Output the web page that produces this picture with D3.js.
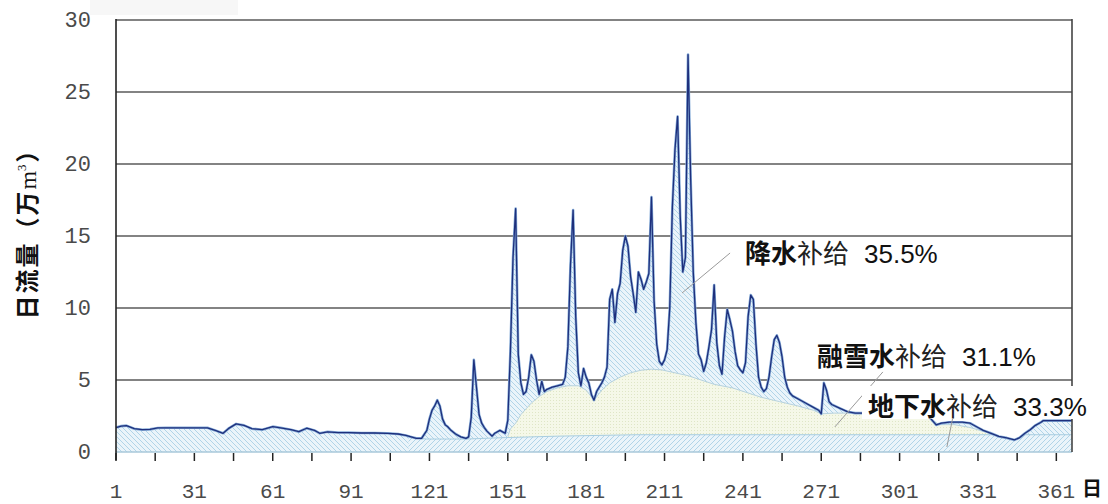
<!DOCTYPE html>
<html>
<head>
<meta charset="utf-8">
<script src="https://cdn.jsdelivr.net/npm/d3@7/dist/d3.min.js"></script>
<style>
  html, body { margin: 0; padding: 0; background: #ffffff; }
  svg { display: block; }
</style>
</head>
<body>
<svg id="chart" width="1108" height="504"></svg>
<script>
// Daily discharge (万m³) through the year, [day, value]
const totalFlow = [
  [1,1.70],[3,1.80],[5,1.83],[8,1.62],[11,1.55],[14,1.57],[17,1.67],[20,1.68],[25,1.68],[30,1.68],
  [36,1.68],[39,1.50],[42,1.30],[44,1.62],[47,1.95],[50,1.85],[53,1.62],[57,1.55],[61,1.76],[64,1.68],
  [68,1.55],[71,1.41],[74,1.65],[77,1.50],[79,1.30],[82,1.40],[86,1.35],[90,1.35],[95,1.32],[100,1.32],
  [105,1.30],[109,1.25],[112,1.15],[114,1.05],[116,0.95],[118,0.95],[120,1.50],[121,2.30],[122,2.90],
  [123,3.20],[124,3.60],[125,3.20],[126,2.30],[127,1.90],[128,1.75],[129,1.55],[131,1.25],[133,1.05],
  [135,0.95],[136,1.05],[137,2.40],[138,6.40],[139,4.50],[140,2.60],[141,2.00],[142,1.70],[143,1.45],
  [145,1.10],[146,1.30],[148,1.50],[149,1.40],[150,1.30],[151,2.20],[152,7.00],[153,13.5],[154,16.9],
  [155,6.80],[156,4.80],[157,4.00],[158,4.20],[159,5.20],[160,6.75],[161,6.30],[162,5.00],[163,4.00],
  [164,4.90],[165,4.20],[166,4.35],[168,4.50],[170,4.60],[172,4.70],[173,5.20],[174,7.30],[175,13.0],
  [176,16.8],[177,9.40],[178,5.50],[179,4.60],[180,5.80],[181,5.20],[182,4.80],[183,4.00],[184,3.60],
  [185,4.20],[186,4.50],[187,4.80],[188,5.20],[189,5.90],[190,10.6],[191,11.3],[192,9.00],[193,11.0],
  [194,11.7],[195,14.0],[196,15.0],[197,14.3],[198,12.2],[199,11.0],[200,9.70],[201,12.5],[202,12.0],
  [203,11.3],[204,11.8],[205,12.4],[206,17.7],[207,10.5],[208,7.50],[209,6.30],[210,6.05],[211,6.40],
  [212,7.10],[213,10.0],[214,17.0],[215,21.0],[216,23.3],[217,16.4],[218,12.5],[219,13.5],[220,27.6],
  [221,19.0],[222,12.5],[223,9.00],[224,6.80],[225,6.40],[226,5.60],[227,6.20],[228,7.30],[229,8.50],
  [230,11.6],[231,7.60],[232,6.00],[233,5.40],[234,8.00],[235,9.90],[236,9.20],[237,8.40],[238,7.00],
  [239,6.00],[240,5.70],[241,5.50],[242,6.20],[243,9.40],[244,10.9],[245,10.6],[246,7.50],[247,5.20],
  [248,4.50],[249,4.20],[250,4.40],[251,5.20],[252,6.60],[253,7.80],[254,8.10],[255,7.60],[256,6.60],
  [257,5.20],[258,4.50],[259,4.10],[260,3.90],[262,3.70],[265,3.40],[268,3.10],[270,2.90],[271,2.65],
  [272,4.80],[273,4.30],[274,3.50],[275,3.30],[278,3.05],[281,2.80],[284,2.70],[290,2.70],[296,2.70],
  [302,2.70],[308,2.70],[312,2.55],[313,2.30],[315,1.88],[317,2.00],[320,2.07],[325,2.07],[328,2.00],
  [331,1.70],[333,1.50],[336,1.30],[339,1.08],[342,0.98],[345,0.84],[347,1.00],[349,1.30],[351,1.55],
  [353,1.85],[355,2.05],[356,2.18],[366,2.18],[367,2.18]
];

// Upper edge of the snowmelt share (groundwater + snowmelt), [day, value]
const meltTop = [
  [151,1.10],[152,1.60],[154,2.00],[156,2.60],[158,3.00],[160,3.40],[163,3.85],[166,4.20],[170,4.45],
  [174,4.60],[178,4.60],[181,4.30],[184,3.60],[187,4.30],[190,4.80],[194,5.20],[198,5.50],[202,5.68],
  [206,5.75],[210,5.70],[215,5.50],[220,5.30],[225,5.00],[230,4.70],[237,4.45],[243,4.10],[248,3.80],
  [255,3.50],[262,3.20],[268,2.90],[271,2.65],[276,2.70],[285,2.70],[300,2.68],[308,2.60],[312,2.45],
  [316,1.90],[322,1.90],[328,1.70],[334,1.38],[337,1.20]
];

// Baseflow (groundwater share), [day, value]
const groundwater = [
  [113,1.10],[116,0.95],[120,0.90],[135,0.90],[150,1.00],[170,1.10],[200,1.20],[240,1.20],[280,1.20],
  [320,1.20],[337,1.20],[339,1.05],[342,0.95],[345,0.84],[347,1.00],[349,1.20],[367,1.20]
];

const yTicks = [0, 5, 10, 15, 20, 25, 30];
const xTickLabels = [1, 31, 61, 91, 121, 151, 181, 211, 241, 271, 301, 331, 361];
const xMinorTicks = d3.range(1, 362, 15);

// Shares of each recharge source
const shares = [
  { bold: "降水", rest: "补给", pct: "35.5%", at: [241.8, 13.12], from: [236.1, 13.82], to: [217.7, 11.04], box: false },
  { bold: "融雪水", rest: "补给", pct: "31.1%", at: [269.4, 5.97], from: [294.6, 5.56], to: [276.2, 1.74], box: false },
  { bold: "地下水", rest: "补给", pct: "33.3%", at: [288.9, 2.50], from: [321.4, 2.43], to: [319.1, 0.35], box: true }
];

const svg = d3.select("#chart");
const x = d3.scaleLinear().domain([1, 367]).range([116, 1072]);
const y = d3.scaleLinear().domain([0, 30]).range([452, 20]);

// Fill patterns
const defs = svg.append("defs");
const hatchA = defs.append("pattern").attr("id", "hatchRain")
  .attr("patternUnits", "userSpaceOnUse").attr("width", 5).attr("height", 5);
hatchA.append("rect").attr("width", 5).attr("height", 5).attr("fill", "#eaf4fa");
hatchA.append("path").attr("d", "M-1,-1 L6,6 M-1,4 L1,6 M4,-1 L6,1")
  .attr("stroke", "#a9d0e6").attr("stroke-width", 0.9);

const hatchB = defs.append("pattern").attr("id", "hatchGround")
  .attr("patternUnits", "userSpaceOnUse").attr("width", 5).attr("height", 5);
hatchB.append("rect").attr("width", 5).attr("height", 5).attr("fill", "#eaf4fa");
hatchB.append("path").attr("d", "M-1,6 L6,-1 M-1,1 L1,-1 M4,6 L6,4")
  .attr("stroke", "#a9d0e6").attr("stroke-width", 0.9);

const dots = defs.append("pattern").attr("id", "dotsMelt")
  .attr("patternUnits", "userSpaceOnUse").attr("width", 3).attr("height", 3);
dots.append("rect").attr("width", 3).attr("height", 3).attr("fill", "#f5f8e8");
dots.append("rect").attr("x", 1).attr("y", 1).attr("width", 1).attr("height", 1).attr("fill", "#dfe6c6");

// Faint strip at the top-left corner
svg.append("rect").attr("x", 90).attr("y", 0).attr("width", 148).attr("height", 15).attr("fill", "#f7f7f7");

// Horizontal gridlines
svg.append("g").selectAll("line").data(yTicks.filter(d => d > 0)).join("line")
  .attr("x1", x(1)).attr("x2", x(367))
  .attr("y1", d => y(d)).attr("y2", d => y(d))
  .attr("stroke", "#5a5a5a").attr("stroke-width", 1.6);

const area = d3.area().x(d => x(d[0])).y0(y(0)).y1(d => y(d[1]));
const line = d3.line().x(d => x(d[0])).y(d => y(d[1]));

svg.append("path").datum(totalFlow).attr("d", area).attr("fill", "url(#hatchRain)");
svg.append("path").datum(meltTop).attr("d", area).attr("fill", "url(#dotsMelt)");
svg.append("path").datum(meltTop).attr("d", line).attr("fill", "none")
  .attr("stroke", "#b7d2de").attr("stroke-width", 1);
svg.append("path").datum(groundwater).attr("d", area).attr("fill", "url(#hatchGround)");
svg.append("path").datum(groundwater).attr("d", line).attr("fill", "none")
  .attr("stroke", "#a8cde0").attr("stroke-width", 1);

// Discharge line
svg.append("path").datum(totalFlow).attr("d", line).attr("fill", "none")
  .attr("stroke", "#86acd8").attr("stroke-width", 2.6).attr("stroke-linejoin", "round");
svg.append("path").datum(totalFlow).attr("d", line).attr("fill", "none")
  .attr("stroke", "#1e2f7c").attr("stroke-width", 1.3).attr("stroke-linejoin", "round");

// Baseline, frame and ticks
svg.append("line").attr("x1", x(1)).attr("x2", x(367)).attr("y1", y(0)).attr("y2", y(0))
  .attr("stroke", "#a8c8da").attr("stroke-width", 1.5);
svg.append("line").attr("x1", x(1)).attr("x2", x(1)).attr("y1", y(30) - 1).attr("y2", y(0) + 8)
  .attr("stroke", "#222").attr("stroke-width", 1.6);
svg.append("line").attr("x1", x(367)).attr("x2", x(367)).attr("y1", y(30) - 1).attr("y2", y(0))
  .attr("stroke", "#444").attr("stroke-width", 1.6);

svg.append("g").selectAll("line").data(xMinorTicks).join("line")
  .attr("x1", d => x(d)).attr("x2", d => x(d))
  .attr("y1", y(0) + 1).attr("y2", y(0) + 9)
  .attr("stroke", "#222").attr("stroke-width", 1.5);

const tickFont = "'Liberation Mono', 'DejaVu Sans Mono', monospace";
svg.append("g").selectAll("text").data(yTicks).join("text")
  .attr("x", 91).attr("y", d => y(d) + 1)
  .attr("text-anchor", "end").attr("dominant-baseline", "middle")
  .attr("font-family", tickFont).attr("font-size", 22).attr("fill", "#4a4a4a")
  .text(d => d);

svg.append("g").selectAll("text").data(xTickLabels).join("text")
  .attr("x", d => x(d)).attr("y", 498)
  .attr("text-anchor", "middle")
  .attr("font-family", tickFont).attr("font-size", 21).attr("fill", "#4a4a4a")
  .text(d => d);

// Axis titles
const cjk = "'Noto Sans CJK SC', 'Noto Sans', sans-serif";
const yTitle = svg.append("text")
  .attr("transform", "translate(36,228) rotate(-90)")
  .attr("text-anchor", "middle").attr("letter-spacing", 2)
  .attr("font-family", cjk).attr("font-size", 24).attr("font-weight", "bold").attr("fill", "#111");
yTitle.append("tspan").text("日流量（万");
yTitle.append("tspan").attr("font-family", "'Liberation Serif', serif").attr("font-weight", "normal")
  .attr("letter-spacing", 0).text("m");
yTitle.append("tspan").attr("font-family", "'Liberation Serif', serif").attr("font-weight", "normal")
  .attr("font-size", 13).attr("dy", -10).text("3");
yTitle.append("tspan").attr("dy", 10).text("）");

svg.append("text").attr("x", 1082).attr("y", 496)
  .attr("font-family", cjk).attr("font-size", 20).attr("font-weight", "bold").attr("fill", "#111")
  .text("日");

// Share annotations
const ann = svg.append("g");
shares.forEach(s => {
  ann.append("line")
    .attr("x1", x(s.from[0])).attr("y1", y(s.from[1]))
    .attr("x2", x(s.to[0])).attr("y2", y(s.to[1]))
    .attr("stroke", "#9a9a9a").attr("stroke-width", 1);
  const tx = x(s.at[0]), ty = y(s.at[1]);
  if (s.box) {
    ann.append("rect").attr("x", tx - 6).attr("y", ty - 30).attr("width", 225).attr("height", 33)
      .attr("fill", "#ffffff");
  }
  const t = ann.append("text").attr("x", tx).attr("y", ty)
    .attr("font-size", 26).attr("fill", "#111");
  t.append("tspan").attr("font-family", cjk).attr("font-weight", "bold").text(s.bold);
  t.append("tspan").attr("font-family", cjk).attr("font-weight", "normal").attr("fill", "#222").text(s.rest);
  t.append("tspan").attr("font-family", "'Liberation Sans', Arial, sans-serif").attr("dx", 15).text(s.pct);
});
</script>
</body>
</html>
